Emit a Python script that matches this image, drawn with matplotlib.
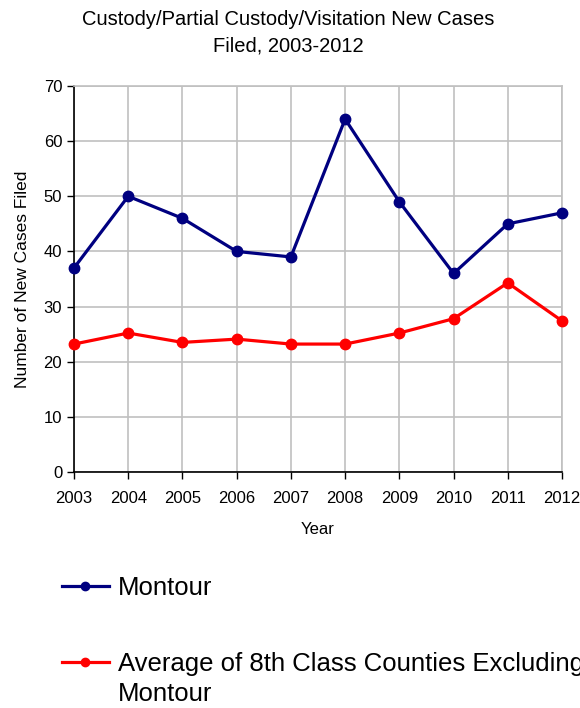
import matplotlib.pyplot as plt

plt.rcParams['font.family'] = ['Liberation Sans', 'DejaVu Sans']

years = [2003, 2004, 2005, 2006, 2007, 2008, 2009, 2010, 2011, 2012]
montour = [37, 50, 46, 40, 39, 64, 49, 36, 45, 47]
avg_8th_class = [23.2, 25.2, 23.5, 24.1, 23.2, 23.2, 25.2, 27.8, 34.3, 27.4]
y_ticks = [0, 10, 20, 30, 40, 50, 60, 70]

fig = plt.figure(figsize=(5.8, 7.08), dpi=100)
ax = fig.add_axes([74 / 580, 1 - 472 / 708, (562 - 74) / 580, (472 - 86) / 708])

ax.plot(years, montour, color='#000080', lw=2.3, marker='o', ms=7.5,
        label='Montour', clip_on=False, zorder=4)
ax.plot(years, avg_8th_class, color='#ff0000', lw=2.3, marker='o', ms=7.5,
        label='Average of 8th Class Counties Excluding', clip_on=False, zorder=3)

ax.set_xlim(years[0], years[-1])
ax.set_ylim(0, 70)
ax.set_xticks(years)
ax.set_yticks(y_ticks)
ax.tick_params(labelsize=12, length=5, width=1, direction='out', colors='black')
ax.tick_params(axis='x', pad=9)

ax.grid(True, color='#c0c0c0', lw=1.2)
ax.set_axisbelow(True)
for side in ['top', 'right']:
    ax.spines[side].set_color('#c0c0c0')
    ax.spines[side].set_linewidth(1.2)
for side in ['left', 'bottom']:
    ax.spines[side].set_color('black')
    ax.spines[side].set_linewidth(1.2)

ax.set_xlabel('Year', fontsize=12, labelpad=11)
ax.set_ylabel('Number of New Cases Filed', fontsize=12.5, labelpad=10)

fig.text(0.497, 1 - 33 / 708, 'Custody/Partial Custody/Visitation New Cases\nFiled, 2003-2012',
         ha='center', va='center', fontsize=14.5, linespacing=1.5)

leg = fig.legend(loc='upper left', bbox_to_anchor=(52 / 580, 1 - 566 / 708), frameon=False,
                 fontsize=18.5, handlelength=1.8, handletextpad=0.35, labelspacing=2.0,
                 markerscale=0.8, borderaxespad=0)

# second line of the long legend label, placed under the first
fig.canvas.draw()
bb = leg.get_texts()[1].get_window_extent()
fig.text(bb.x0, bb.y0 - 30, 'Montour', fontsize=18.5, ha='left', va='bottom',
         transform=None)

plt.savefig('out.png', dpi=100)
plt.close(fig)
